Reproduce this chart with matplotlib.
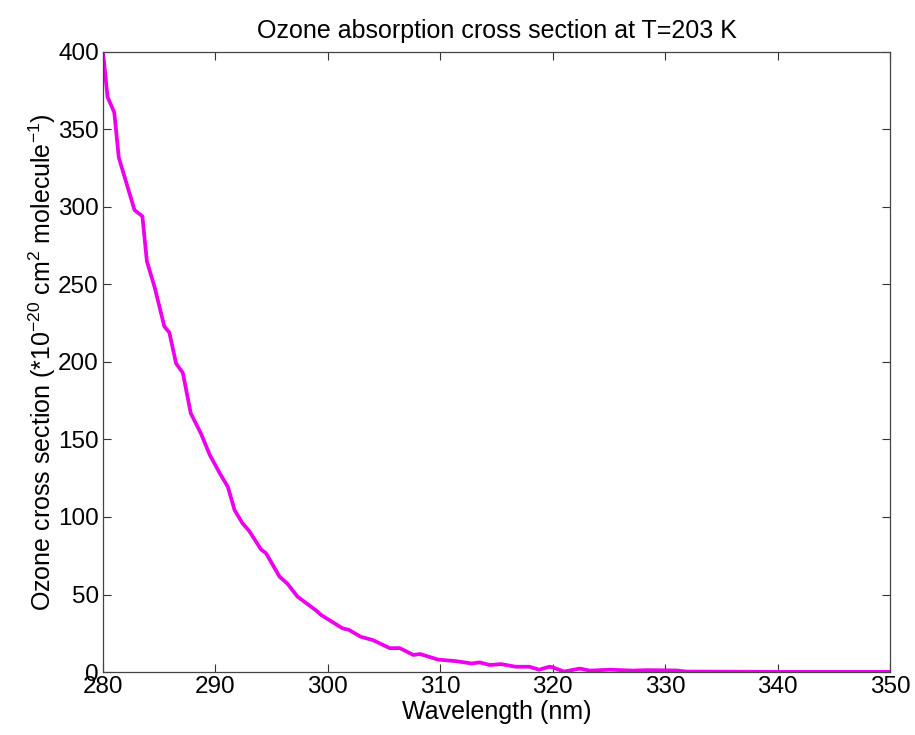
import matplotlib
matplotlib.use("Agg")
import matplotlib.pyplot as plt

plt.rcParams["font.family"] = ["Liberation Sans", "DejaVu Sans"]
plt.rcParams["mathtext.default"] = "regular"

# wavelength (nm) and cross section (1e-20 cm^2 / molecule)
wavelength = [280.0, 280.4, 281.0, 281.4, 282.8, 283.5, 283.9, 284.6, 285.45,
              285.9, 286.5, 287.1, 287.8, 288.7, 289.5, 290.4, 291.1, 291.7,
              292.4, 293.0, 294.06, 294.5, 295.7, 296.4, 297.3, 298.9, 299.4,
              301.3, 301.9, 302.9, 304.0, 305.5, 306.4, 307.6, 308.2, 309.8,
              311.4, 312.8, 313.5, 314.4, 315.4, 316.7, 317.9, 318.8, 319.7,
              320.0, 321.0, 322.4, 323.3, 325.1, 327.1, 328.3, 331.0, 331.9,
              340.0, 350.0]
cross_section = [400, 371, 361, 332, 298, 294, 265, 248, 223,
                 219, 199, 193, 167, 154, 140, 128, 119.5, 104.5,
                 96, 91, 79, 76.6, 61.5, 57, 48.6, 40, 36.8,
                 28.2, 27.1, 22.8, 20.6, 15.4, 15.4, 11, 11.6, 8,
                 7, 5.5, 6.2, 4.5, 5.1, 3.4, 3.4, 1.5, 3.4,
                 3.0, 0.3, 2.2, 0.9, 1.5, 0.9, 1.2, 1.0, 0.3,
                 0.1, 0.1]

fig = plt.figure(figsize=(9.15, 7.35), dpi=100)
ax = fig.add_axes([0.1126, 0.0857, 0.8601, 0.8436])

ax.plot(wavelength, cross_section, "-", color="#ee00ee", lw=2.7)

ax.set_xlim(280, 350)
ax.set_ylim(0, 400)
ax.set_xticks(range(280, 351, 10))
ax.set_yticks(range(0, 401, 50))
ax.tick_params(direction="in", top=True, right=True, labelsize=17.5,
               length=6, width=0.8, color="#333333", pad=3)
for s in ax.spines.values():
    s.set_color("#444444")
    s.set_linewidth(0.9)

ax.set_title("Ozone absorption cross section at T=203 K", fontsize=18, pad=10)
ax.set_xlabel("Wavelength (nm)", fontsize=18, labelpad=1)
ax.set_ylabel("Ozone cross section (*10$^{-20}$ cm$^{2}$ molecule$^{-1}$)",
              fontsize=18, labelpad=0)

fig.savefig("out.png", dpi=100)
